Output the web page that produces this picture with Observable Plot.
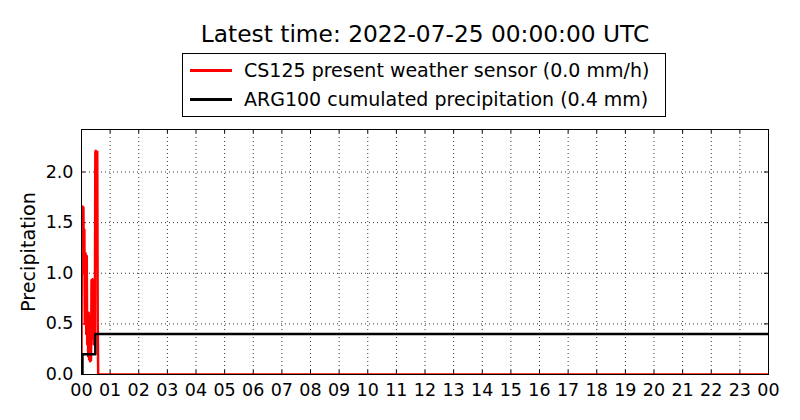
<!DOCTYPE html>
<html><head><meta charset="utf-8">
<script src="https://cdn.jsdelivr.net/npm/d3@7"></script>
<script src="https://cdn.jsdelivr.net/npm/@observablehq/plot@0.6"></script>
<style>
body{margin:0;background:#fff;font-family:"DejaVu Sans",sans-serif;}
#wrap{position:relative;width:800px;height:420px;overflow:hidden;}
#legend{position:absolute;left:182px;top:53px;width:482px;height:62px;border:1px solid #000;background:#fff;}
.row{position:absolute;left:7px;height:24px;display:flex;align-items:center;font-size:19px;color:#000;white-space:nowrap;}
.sw{width:42px;height:3px;margin-right:12px;}
</style>
</head><body>
<div id="wrap"><div id="chart"></div>
<div id="legend">
  <div class="row" style="top:4px"><div class="sw" style="background:#ff0000"></div><span id="l1"></span></div>
  <div class="row" style="top:33px"><div class="sw" style="background:#000"></div><span id="l2"></span></div>
</div></div>
<script>
const titleText = "Latest time: 2022-07-25 00:00:00 UTC";
const seriesNames = ["CS125 present weather sensor (0.0 mm/h)", "ARG100 cumulated precipitation (0.4 mm)"];
const yLabel = "Precipitation";
const dayStart = "2022-07-24T00:00:00Z";
const dayEnd = "2022-07-25T00:00:00Z";

// CS125 precipitation intensity (minutes after 00:00 UTC)
const csMinutes = [0,1,2,3,4,5,6,7,8,9,10,11,12,13,14,15,16,17,18,19,20,21,22,23,24,25,26,27,28,29,30,31,32,33,34,35,36,1440];
const csValues  = [0.2,1.65,1.66,1.3,1.65,1.0,1.43,0.5,1.2,1.18,0.4,1.17,0.3,0.6,0.18,0.61,0.15,0.58,0.13,0.5,0.14,0.93,0.35,0.94,0.5,0.93,0.3,0.92,0.4,2.2,2.21,1.8,2.2,2.2,0.5,0.0,0.0,0.0];

// ARG100 cumulated precipitation
const argMinutes = [0, 2, 29, 1440];
const argValues  = [0, 0.2, 0.4, 0.4];

const yTicks = [0, 0.5, 1.0, 1.5, 2.0];
const yGrid = [0.5, 1.0, 1.5, 2.0];
const yMax = 2.42;

const t0 = new Date(dayStart);
const t1 = new Date(dayEnd);
const toDate = m => new Date(t0.getTime() + m * 60000);
const cs = csMinutes.map((m, i) => ({t: toDate(m), v: csValues[i]}));
const arg = argMinutes.map((m, i) => ({t: toDate(m), v: argValues[i]}));
const hours = d3.utcHour.range(t0, new Date(t1.getTime() + 1));

document.getElementById("l1").textContent = seriesNames[0];
document.getElementById("l2").textContent = seriesNames[1];

const W = 800, H = 420, mL = 81, mR = 32, mT = 129, mB = 46;
const iw = W - mL - mR, ih = H - mT - mB;

const chart = Plot.plot({
  width: W, height: H,
  marginLeft: mL, marginRight: mR, marginTop: mT, marginBottom: mB,
  style: {fontFamily: "DejaVu Sans, sans-serif", fontSize: "17.5px", color: "#000", background: "#fff", overflow: "visible"},
  x: {type: "utc", domain: [t0, t1]},
  y: {domain: [0, yMax]},
  marks: [
    Plot.gridX(hours, {stroke: "#000", strokeOpacity: 1, strokeWidth: 0.8, strokeDasharray: "1,3"}),
    Plot.gridY(yGrid, {stroke: "#000", strokeOpacity: 1, strokeWidth: 0.8, strokeDasharray: "1,3"}),
    Plot.tickX(hours, {x: d => d, insetTop: ih - 4, stroke: "#000"}),
    Plot.tickX(hours, {x: d => d, insetBottom: ih - 4, stroke: "#000"}),
    Plot.tickY(yTicks, {y: d => d, insetRight: iw - 4, stroke: "#000"}),
    Plot.tickY(yTicks, {y: d => d, insetLeft: iw - 4, stroke: "#000"}),
    Plot.line(cs, {x: "t", y: "v", stroke: "#ff0000", strokeWidth: 2.5, clip: true}),
    Plot.line(arg, {x: "t", y: "v", stroke: "#000", strokeWidth: 2.5, curve: "step-after", clip: true}),
    Plot.frame({stroke: "#000", strokeWidth: 1}),
    Plot.axisX(hours, {tickSize: 0, tickPadding: 9, tickFormat: d3.utcFormat("%H"), label: null, fontSize: 17.5}),
    Plot.axisY(yTicks, {tickSize: 0, tickPadding: 8, tickFormat: d3.format(".1f"), label: null, fontSize: 17.5}),
    Plot.text([yLabel], {frameAnchor: "left", textAnchor: "middle", lineAnchor: "middle", dx: -53, rotate: -90, fontSize: 19.2, fill: "#000"}),
    Plot.text([titleText], {frameAnchor: "top", lineAnchor: "middle", dy: -95, fontSize: 23.3, fill: "#000"})
  ]
});
document.getElementById("chart").appendChild(chart);
</script>
</body></html>
